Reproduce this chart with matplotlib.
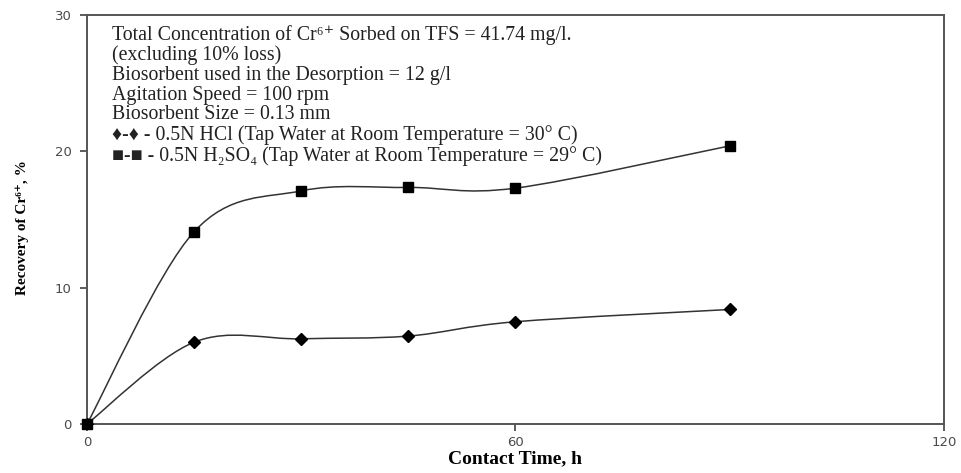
import matplotlib

matplotlib.use("Agg")

import matplotlib.pyplot as plt
from matplotlib.path import Path
from matplotlib.patches import PathPatch

# contact time (h) and recovery of Cr6+ (%)
time_h = [0, 15, 30, 45, 60, 90]
hcl_recovery = [0, 6.0, 6.25, 6.45, 7.5, 8.4]
h2so4_recovery = [0, 14.1, 17.1, 17.35, 17.3, 20.4]

x_ticks = [0, 60, 120]
y_ticks = [0, 10, 20, 30]

info_lines = [
    "Total Concentration of Cr\u2076\u207a Sorbed on TFS = 41.74 mg/l.",
    "(excluding 10% loss)",
    "Biosorbent used in the Desorption = 12 g/l",
    "Agitation Speed = 100 rpm",
    "Biosorbent Size = 0.13 mm",
    "\u2666-\u2666 - 0.5N HCl (Tap Water at Room Temperature = 30\u00b0 C)",
    "\u25a0-\u25a0 - 0.5N H\u2082SO\u2084 (Tap Water at Room Temperature = 29\u00b0 C)",
]

LINE_COLOR = "#333333"
SERIF = ["Liberation Serif", "DejaVu Serif", "DejaVu Sans"]


def smooth_path(xs, ys):
    """Cubic Bezier through the points, Catmull-Rom style tangents."""
    pts = list(zip(xs, ys))
    n = len(pts)
    verts = [pts[0]]
    codes = [Path.MOVETO]
    for i in range(n - 1):
        p0 = pts[i - 1] if i > 0 else pts[i]
        p1 = pts[i]
        p2 = pts[i + 1]
        p3 = pts[i + 2] if i + 2 < n else pts[i + 1]
        c1 = (p1[0] + (p2[0] - p0[0]) / 6, p1[1] + (p2[1] - p0[1]) / 6)
        c2 = (p2[0] - (p3[0] - p1[0]) / 6, p2[1] - (p3[1] - p1[1]) / 6)
        verts += [c1, c2, p2]
        codes += [Path.CURVE4] * 3
    return Path(verts, codes)


fig = plt.figure(figsize=(9.61, 4.73), dpi=100)
ax = fig.add_axes([0.0905, 0.1036, 0.8918, 0.8647])

for ys in (hcl_recovery, h2so4_recovery):
    ax.add_patch(PathPatch(smooth_path(time_h, ys), facecolor="none",
                           edgecolor=LINE_COLOR, linewidth=1.1))

ax.plot(time_h, hcl_recovery, linestyle="none", marker="D", markersize=6.5,
        color="black", zorder=3)
ax.plot(time_h, h2so4_recovery, linestyle="none", marker="s", markersize=7,
        color="black", zorder=4, clip_on=False)

ax.set_xlim(0, 120)
ax.set_ylim(0, 30)
ax.set_xticks(x_ticks)
ax.set_yticks(y_ticks)
ax.tick_params(direction="out", length=5, width=1.2, color="#404040",
               labelsize=9.5, labelcolor="#4a4a4a")
ax.tick_params(axis="y", pad=6)
ax.tick_params(axis="x", pad=3.5)
for spine in ax.spines.values():
    spine.set_color("#555555")
    spine.set_linewidth(1.4)

ax.set_xlabel("Contact Time, h", family=SERIF, fontweight="bold", fontsize=14)
ax.xaxis.set_label_coords(0.5, -0.064)
ax.set_ylabel("Recovery of Cr\u2076\u207a, %", family=SERIF, fontweight="bold",
              fontsize=11)
ax.yaxis.set_label_coords(-0.068, 0.48)

ax.text(0.029, 0.976, "\n".join(info_lines), transform=ax.transAxes,
        va="top", ha="left", family=SERIF, fontsize=14.3, linespacing=1.05,
        color="#222222")

fig.savefig("out.png", dpi=100)
plt.close(fig)
